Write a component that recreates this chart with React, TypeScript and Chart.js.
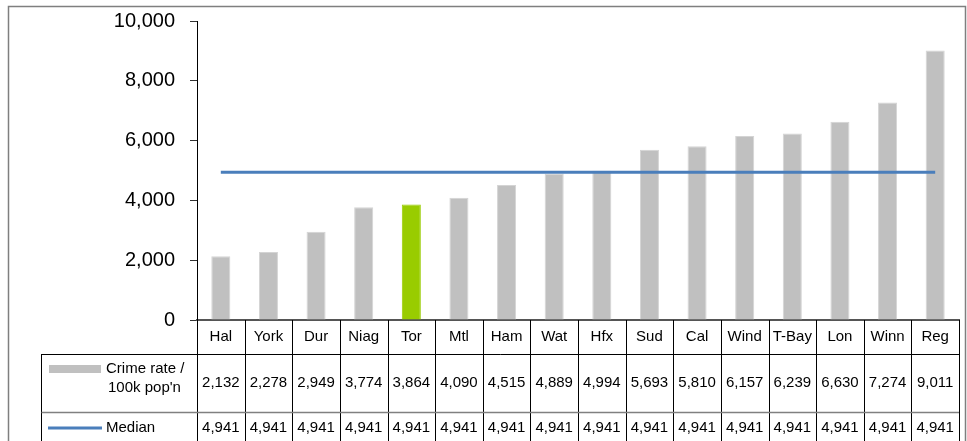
import React, { useEffect, useRef } from "react";
import { Chart, registerables } from "chart.js";
Chart.register(...registerables);

const categories = ["Hal", "York", "Dur", "Niag", "Tor", "Mtl", "Ham", "Wat", "Hfx", "Sud", "Cal", "Wind", "T-Bay", "Lon", "Winn", "Reg"];
const crimeRate = [2132, 2278, 2949, 3774, 3864, 4090, 4515, 4889, 4994, 5693, 5810, 6157, 6239, 6630, 7274, 9011];
const medianValues = [4941, 4941, 4941, 4941, 4941, 4941, 4941, 4941, 4941, 4941, 4941, 4941, 4941, 4941, 4941, 4941];
const highlighted = "Tor";
const crimeLabelLines = ["Crime rate /", "100k pop'n"];
const medianLabel = "Median";
const yMin = 0;
const yMax = 10000;
const yStep = 2000;

const FONT = "Liberation Sans, Arial, sans-serif";
const GREY = "#c0c0c0";
const GREEN = "#99cc00";
const BLUE = "#4a7ebb";

const fmt = (v: number) => Number(v).toLocaleString("en-US");

const tablePlugin = {
  id: "dataTable",
  beforeDraw(chart: any) {
    const ctx = chart.ctx;
    ctx.save();
    ctx.strokeStyle = "#7f7f7f";
    ctx.lineWidth = 1.5;
    ctx.beginPath();
    ctx.moveTo(8.5, 460);
    ctx.lineTo(8.5, 6.5);
    ctx.lineTo(965.5, 6.5);
    ctx.lineTo(965.5, 460);
    ctx.stroke();
    ctx.restore();
  },
  afterDraw(chart: any) {
    const ctx = chart.ctx;
    const { left, right, bottom } = chart.chartArea;
    const xs = chart.scales.x;
    const n = categories.length;
    const colW = (right - left) / n;
    const row2Top = bottom + 34;
    const row3Top = row2Top + 58;
    const tableBottom = chart.height + 10;
    const legendLeft = 41.5;
    ctx.save();
    ctx.strokeStyle = "#000";
    ctx.lineWidth = 1;
    ctx.beginPath();
    for (let i = 0; i <= n; i++) {
      const x = Math.round(left + i * colW) + 0.5;
      ctx.moveTo(x, bottom);
      ctx.lineTo(x, tableBottom);
    }
    ctx.moveTo(legendLeft, row2Top);
    ctx.lineTo(legendLeft, tableBottom);
    ctx.moveTo(legendLeft, Math.round(row2Top) + 0.5);
    ctx.lineTo(right, Math.round(row2Top) + 0.5);
    ctx.stroke();
    ctx.strokeStyle = "#808080";
    ctx.lineWidth = 1.5;
    ctx.beginPath();
    ctx.moveTo(legendLeft, Math.round(row3Top) + 0.5);
    ctx.lineTo(right, Math.round(row3Top) + 0.5);
    ctx.stroke();

    ctx.fillStyle = "#000";
    ctx.font = `15px ${FONT}`;
    ctx.textAlign = "center";
    ctx.textBaseline = "middle";
    const yCat = bottom + 17;
    const yCrime = row2Top + 29;
    const yMed = row3Top + 16;
    categories.forEach((c, i) => {
      const x = xs.getPixelForValue(i);
      ctx.fillText(c, x, yCat);
      ctx.fillText(fmt(crimeRate[i]), x, yCrime);
      ctx.fillText(fmt(medianValues[i]), x, yMed);
    });

    ctx.fillStyle = GREY;
    ctx.fillRect(49, row2Top + 11, 52, 8);
    ctx.fillStyle = "#000";
    ctx.textAlign = "left";
    ctx.fillText(crimeLabelLines[0], 106, row2Top + 15);
    ctx.fillText(crimeLabelLines[1], 108, row2Top + 34);
    ctx.strokeStyle = BLUE;
    ctx.lineWidth = 3;
    ctx.beginPath();
    ctx.moveTo(48, yMed);
    ctx.lineTo(102, yMed);
    ctx.stroke();
    ctx.fillText(medianLabel, 106, yMed);
    ctx.restore();
  },
};

export default function App() {
  const ref = useRef<HTMLCanvasElement>(null);
  useEffect(() => {
    if (!ref.current) return;
    const chart = new Chart(ref.current, {
      type: "bar",
      data: {
        labels: categories,
        datasets: [
          {
            type: "line",
            label: medianLabel,
            data: medianValues,
            borderColor: BLUE,
            borderWidth: 3,
            pointRadius: 0,
            fill: false,
            order: 0,
          } as any,
          {
            type: "bar",
            label: crimeLabelLines.join(" "),
            data: crimeRate,
            backgroundColor: categories.map((c) => (c === highlighted ? GREEN : GREY)),
            borderColor: categories.map((c) => (c === highlighted ? GREEN : "#d4d4d4")),
            borderWidth: 1,
            barPercentage: 0.4,
            categoryPercentage: 1,
            order: 1,
          },
        ],
      },
      plugins: [tablePlugin],
      options: {
        animation: false,
        responsive: true,
        maintainAspectRatio: false,
        layout: { padding: { top: 21, right: 8, left: 0, bottom: 0 } },
        plugins: { legend: { display: false }, tooltip: { enabled: false }, title: { display: false } },
        scales: {
          x: {
            type: "category",
            offset: true,
            ticks: { display: false },
            grid: { display: false },
            border: { display: true, color: "#555", width: 2 },
            afterFit: (s: any) => {
              s.height = 121;
            },
          },
          y: {
            min: yMin,
            max: yMax,
            ticks: {
              stepSize: yStep,
              color: "#000",
              font: { family: FONT, size: 20 },
              padding: 15,
              callback: (v: any) => fmt(v),
            },
            grid: { drawOnChartArea: false, drawTicks: true, tickLength: 7, color: "#333" },
            border: { display: true, color: "#000", width: 1 },
            afterFit: (s: any) => {
              s.width = 197;
              s.paddingTop = 0;
              s.paddingBottom = 0;
            },
          },
        },
      },
    });
    return () => chart.destroy();
  }, []);
  return (
    <div style={{ position: "absolute", left: 0, top: 0, width: 967, height: 441 }}>
      <canvas ref={ref} />
    </div>
  );
}
